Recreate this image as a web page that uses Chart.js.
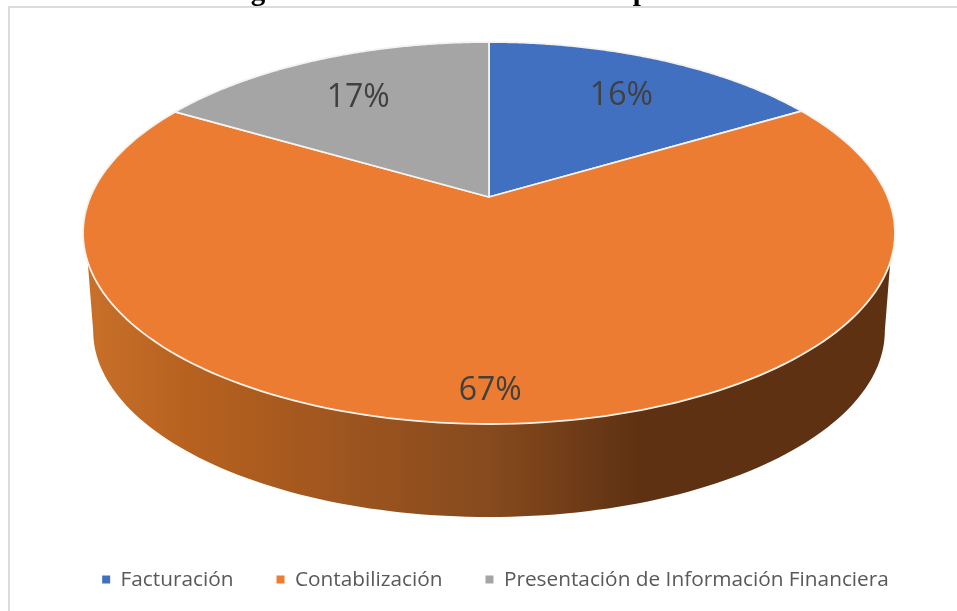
<!DOCTYPE html>
<html>
<head>
<meta charset="utf-8">
<script src="https://cdn.jsdelivr.net/npm/chart.js@4/dist/chart.umd.js"></script>
<style>
  html, body { margin: 0; padding: 0; background: #fff; overflow: hidden; }
  #wrap { width: 957px; height: 611px; }
</style>
</head>
<body>
<div id="wrap"><canvas id="grafico" width="957" height="611"></canvas></div>
<script>
const categorias = ['Facturación', 'Contabilización', 'Presentación de Información Financiera'];
const valores = [16.45, 67, 16.55];
const colores = ['#4270c0', '#eb7c31', '#a5a5a5'];
const tituloTexto = 'Figura 4 Proceso Contable en Importancia';

// perspectiva del disco: el pastel de Chart.js es un circulo, aqui se inclina
const cx = 489, cy = 197;       // vertice de las porciones
const rx = 398.7, ry = 184.2;   // radios de la proyeccion
const k = 0.1885;               // fuerza de la perspectiva
const escalaBase = 0.975, caidaBase = 98.7; // disco inferior (grosor)
const radioEtiqueta = [0.755, 0.857, 0.74];

function proyectar(angulo, t) {
  const u = Math.cos(angulo) * t, v = Math.sin(angulo) * t;
  const d = 1 - k * v;
  return { x: cx + rx * u / d, y: cy + ry * v / d };
}

function proyectarBase(angulo) {
  const p = proyectar(angulo, 1);
  return { x: cx + (p.x - cx) * escalaBase, y: cy + (p.y - cy) * escalaBase + caidaBase };
}

function pared(ctx) {
  const a0 = Math.asin(0.331), b0 = Math.asin(k);
  const grad = ctx.createLinearGradient(90, 0, 890, 0);
  grad.addColorStop(0, '#c8702a');
  grad.addColorStop(0.125, '#b7611f');
  grad.addColorStop(0.5, '#864a1e');
  grad.addColorStop(0.69, '#5e3112');
  grad.addColorStop(1, '#5e3112');
  ctx.beginPath();
  for (let i = 0; i <= 120; i++) {
    const p = proyectar(a0 + (Math.PI - 2 * a0) * i / 120, 1);
    i === 0 ? ctx.moveTo(p.x, p.y) : ctx.lineTo(p.x, p.y);
  }
  for (let i = 120; i >= 0; i--) {
    const p = proyectarBase(b0 + (Math.PI - 2 * b0) * i / 120);
    ctx.lineTo(p.x, p.y);
  }
  ctx.closePath();
  ctx.fillStyle = grad;
  ctx.fill();
}

// cada porcion usa sus angulos de Chart.js, solo cambia la forma de trazarla
Chart.ArcElement.prototype.draw = function (ctx) {
  const ini = this.startAngle, fin = this.endAngle;
  ctx.save();
  if (ini < Math.PI / 2 && fin > Math.PI / 2) pared(ctx);
  ctx.beginPath();
  ctx.moveTo(cx, cy);
  const pasos = 160;
  for (let i = 0; i <= pasos; i++) {
    const p = proyectar(ini + (fin - ini) * i / pasos, 1);
    ctx.lineTo(p.x, p.y);
  }
  ctx.closePath();
  ctx.fillStyle = this.options.backgroundColor;
  ctx.fill();
  ctx.strokeStyle = this.options.borderColor;
  ctx.lineWidth = this.options.borderWidth;
  ctx.lineJoin = 'round';
  ctx.stroke();
  ctx.restore();
};

const extras = {
  id: 'extras',
  beforeDraw(chart) {
    const ctx = chart.ctx;
    ctx.save();
    ctx.fillStyle = '#fff';
    ctx.fillRect(0, 0, chart.width, chart.height);
    ctx.strokeStyle = '#dcdcdc';
    ctx.lineWidth = 2;
    ctx.beginPath();
    ctx.moveTo(9, chart.height);
    ctx.lineTo(9, 7);
    ctx.lineTo(chart.width, 7);
    ctx.stroke();
    ctx.fillStyle = '#000';
    ctx.font = 'bold 29px "Liberation Serif"';
    ctx.textAlign = 'left';
    ctx.textBaseline = 'alphabetic';
    ctx.fillText(tituloTexto, 225, 0);
    ctx.restore();
  },
  afterDatasetsDraw(chart) {
    const ctx = chart.ctx;
    const arcos = chart.getDatasetMeta(0).data;
    ctx.save();
    ctx.font = '32px "Open Sans"';
    ctx.fillStyle = '#404040';
    ctx.textAlign = 'center';
    ctx.textBaseline = 'middle';
    arcos.forEach((arco, i) => {
      const p = proyectar((arco.startAngle + arco.endAngle) / 2, radioEtiqueta[i]);
      ctx.fillText(Math.round(valores[i]) + '%', p.x, p.y + 6);
    });
    ctx.restore();
  }
};

new Chart(document.getElementById('grafico'), {
  type: 'pie',
  data: {
    labels: categorias,
    datasets: [{
      data: valores,
      backgroundColor: colores,
      borderColor: '#f6f2ee',
      borderWidth: 1.8
    }]
  },
  options: {
    responsive: false,
    animation: false,
    layout: { padding: { left: 34, bottom: 11 } },
    plugins: {
      tooltip: { enabled: false },
      legend: {
        position: 'bottom',
        labels: {
          boxWidth: 8,
          boxHeight: 8,
          padding: 43,
          color: '#595959',
          font: { family: '"Open Sans"', size: 20.8 },
          generateLabels(chart) {
            return Chart.overrides.doughnut.plugins.legend.labels.generateLabels(chart)
              .map(item => ({ ...item, lineWidth: 0 }));
          }
        }
      }
    }
  },
  plugins: [extras]
});
</script>
</body>
</html>
